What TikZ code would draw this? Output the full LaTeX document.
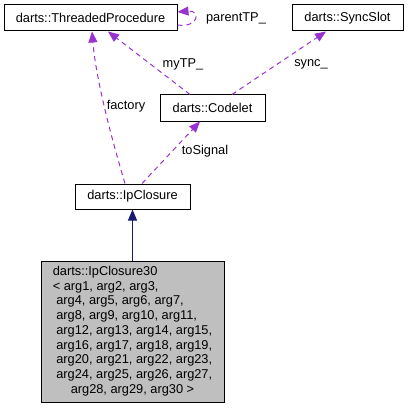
\documentclass[tikz,border=0pt]{standalone}
\usepackage{fontspec}
\setmainfont{Liberation Sans}
\usetikzlibrary{arrows.meta}
\definecolor{edgepurple}{HTML}{9A32CD}
\definecolor{edgenavy}{HTML}{191970}
\definecolor{nodegray}{HTML}{BFBFBF}

\begin{document}
\begin{tikzpicture}[x=1pt, y=-1pt, font=\fontsize{12.8}{14.75}\selectfont,
  box/.style={draw, line width=1pt, inner sep=0pt, minimum height=26pt, align=center},
  use/.style={draw=edgepurple, dash pattern=on 5pt off 4pt, line width=1pt, -{Triangle[length=11pt, width=9pt]}, color=edgepurple},
  inherit/.style={draw=edgenavy, line width=1pt, -{Triangle[length=11pt, width=9pt]}, color=edgenavy},
  lbl/.style={text=black, inner sep=1pt}]
\useasboundingbox (0,0) rectangle (409,409);
\node[box, minimum width=173pt] (tp) at (90.5,18) {darts::ThreadedProcedure};
\node[box, minimum width=111pt] (ss) at (347.5,18) {darts::SyncSlot};
\node[box, minimum width=105pt] (cod) at (212.5,108) {darts::Codelet};
\node[box, minimum width=115pt, minimum height=25pt] (ipc) at (132.5,196.5) {darts::IpClosure};
\node[box, fill=nodegray, minimum width=183pt, minimum height=141pt] (ipc30) at (132.5,331.5)
  {\begin{tabular}{@{}l@{}}
   darts::IpClosure30\\
   < arg1, arg2, arg3,\\
   \ arg4, arg5, arg6, arg7,\\
   \ arg8, arg9, arg10, arg11,\\
   \ arg12, arg13, arg14, arg15,\\
   \ arg16, arg17, arg18, arg19,\\
   \ arg20, arg21, arg22, arg23,\\
   \ arg24, arg25, arg26, arg27,\\
   \multicolumn{1}{@{}c@{}}{arg28, arg29, arg30 >}
   \end{tabular}};
% self reference
\draw[use] ([yshift=-7pt]tp.east) .. controls (199,28) and (201,10) .. ([yshift=6pt]tp.east);
\node[lbl] (lparent) at (236,18) {parentTP\_};
% members
\draw[use] ([xshift=-7.5pt]ipc.north) .. controls (112,140) and (96,80) .. ([xshift=1.5pt]tp.south);
\node[lbl] (lfactory) at (126,106) {factory};
\draw[use] ([xshift=-22.5pt]cod.north) -- ([xshift=17.5pt]tp.south);
\node[lbl] (lmytp) at (183,64) {myTP\_};
\draw[use] ([xshift=19.5pt]cod.north) -- ([xshift=-21.5pt]ss.south);
\node[lbl] (lsync) at (311,64) {sync\_};
\draw[use] ([xshift=9.5pt]ipc.north) -- ([xshift=-12.5pt]cod.south);
\node[lbl] (lsignal) at (205,151) {toSignal};
% base class
\draw[inherit] (ipc30.north) -- (ipc.south);
\end{tikzpicture}
\end{document}
